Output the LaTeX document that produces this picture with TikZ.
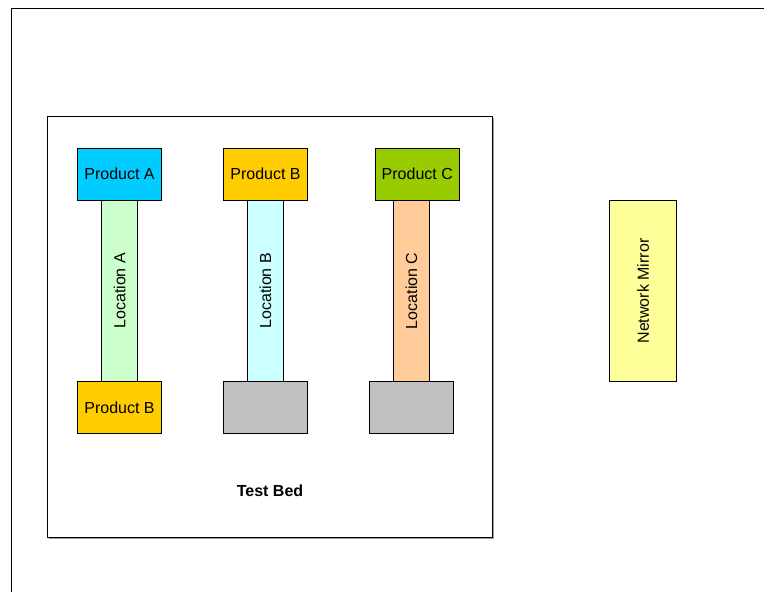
\documentclass[tikz,border=0pt]{standalone}
\usepackage{fontspec}
\setmainfont{Liberation Sans}
\definecolor{prodA}{HTML}{00CCFF}
\definecolor{prodB}{HTML}{FFCC00}
\definecolor{prodC}{HTML}{99CC00}
\definecolor{locA}{HTML}{CCFFCC}
\definecolor{locB}{HTML}{CCFFFF}
\definecolor{locC}{HTML}{FFCC99}
\definecolor{greybox}{HTML}{C0C0C0}
\definecolor{mirror}{HTML}{FFFF99}
\definecolor{shadowc}{HTML}{A0A0A0}
\begin{document}
\begin{tikzpicture}[x=1pt,y=-1pt,
  box/.style={draw=black,line width=0.8pt},
  lbl/.style={font=\fontsize{16}{19}\selectfont,inner sep=0pt},
  shade/.style={draw=shadowc,line width=0.8pt}]
\useasboundingbox (0,0) rectangle (764,592);
\fill[white] (0,0) rectangle (764,592);
% outer frame
\draw[line width=0.9pt] (11.5,592) -- (11.5,8) -- (764,8);
% test bed
\draw[shade] (49,538.5) -- (493.5,538.5) -- (493.5,118);
\draw[box] (47.5,116.5) rectangle (492,537);
\node[lbl,font=\fontsize{16}{19}\selectfont\bfseries] (tb) at (270,491) {Test Bed};
% column A
\draw[box,fill=locA] (101.7,200.7) rectangle (137.7,381);
\node[lbl,rotate=90] (la) at (119.7,290.8) {Location A};
\draw[box,fill=prodA] (77.3,148) rectangle (161.7,200.7);
\node[lbl] (pa) at (119.5,174) {Product A};
\draw[box,fill=prodB] (77.3,381) rectangle (161.7,433.3);
\node[lbl] (pb1) at (119.5,407.5) {Product B};
% column B
\draw[box,fill=locB] (247.3,200.7) rectangle (283.7,381);
\node[lbl,rotate=90] (lb) at (265.5,290.8) {Location B};
\draw[box,fill=prodB] (223.3,148) rectangle (307.7,200.7);
\node[lbl] (pb2) at (265.5,174) {Product B};
\draw[box,fill=greybox] (223.3,381) rectangle (307.7,433.3);
% column C
\draw[box,fill=locC] (393.3,200.7) rectangle (429.7,381);
\node[lbl,rotate=90] (lc) at (411.5,290.8) {Location C};
\draw[box,fill=prodC] (375.3,148) rectangle (459.3,200.7);
\node[lbl] (pc) at (417.3,174) {Product C};
\draw[box,fill=greybox] (369.3,381) rectangle (453.7,433.3);
% network mirror
\draw[box,fill=mirror] (609.7,200.3) rectangle (676.7,381.7);
\node[lbl,rotate=90] (nm) at (643.2,291) {Network Mirror};
\end{tikzpicture}
\end{document}
